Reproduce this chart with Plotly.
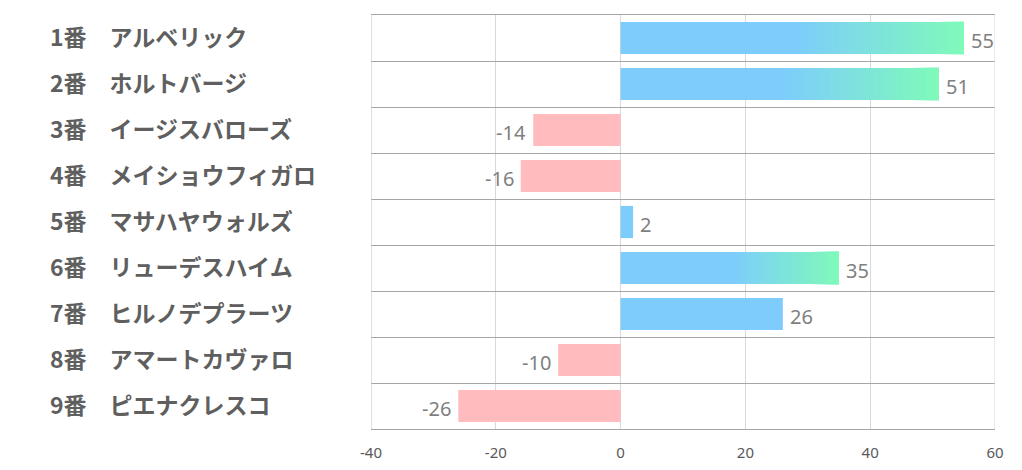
import plotly.graph_objects as go

# ---- data ----
numbers = ["1番", "2番", "3番", "4番", "5番", "6番", "7番", "8番", "9番"]
horses = ["アルベリック", "ホルトバージ", "イージスバローズ", "メイショウフィガロ",
          "マサハヤウォルズ", "リューデスハイム", "ヒルノデプラーツ", "アマートカヴァロ", "ピエナクレスコ"]
values = [55, 51, -14, -16, 2, 35, 26, -10, -26]
x_ticks = [-40, -20, 0, 20, 40, 60]

# ---- styles ----
BLUE = (125, 204, 252)
GREEN = (127, 250, 186)
PINK = "#FFBBBD"
HIGHLIGHT = 30          # bars at/above this get a gradient tail
GRAD_FROM = 0.5         # gradient starts at this fraction of bar length
N_SEG = 48
BAR_W = 0.7

cats = [f"{n}　{h}" for n, h in zip(numbers, horses)]

def rgb(c):
    return f"rgb({c[0]},{c[1]},{c[2]})"

base_colors = [rgb(BLUE) if v >= 0 else PINK for v in values]

fig = go.Figure()
fig.add_trace(go.Bar(
    y=cats, x=values, orientation="h", width=BAR_W,
    marker=dict(color=base_colors, line=dict(width=0)),
    hoverinfo="skip", showlegend=False,
))

# gradient overlay segments
seg_y, seg_base, seg_x, seg_col = [], [], [], []
for c, v in zip(cats, values):
    if v >= HIGHLIGHT:
        for i in range(N_SEG):
            t = i / (N_SEG - 1)
            start = v * (GRAD_FROM + (1 - GRAD_FROM) * i / N_SEG)
            col = tuple(round(BLUE[k] + (GREEN[k] - BLUE[k]) * t) for k in range(3))
            seg_y.append(c)
            seg_base.append(start)
            seg_x.append(v - start)
            seg_col.append(rgb(col))
fig.add_trace(go.Bar(
    y=seg_y, x=seg_x, base=seg_base, orientation="h", width=BAR_W,
    marker=dict(color=seg_col, line=dict(width=0)),
    hoverinfo="skip", showlegend=False,
))

# value labels outside bar ends
for c, v in zip(cats, values):
    fig.add_annotation(
        x=v, xref="x", y=c, yref="y", text=str(v), showarrow=False,
        xanchor="left" if v >= 0 else "right", yanchor="middle",
        xshift=5 if v >= 0 else -5, yshift=-2,
        font=dict(family="Noto Sans", size=20, color="#7f7f7f"),
    )

# left-aligned category labels
for c in cats:
    fig.add_annotation(
        x=-0.5176, xref="paper", y=c, yref="y", text=c, showarrow=False,
        xanchor="left", yanchor="middle", yshift=2,
        font=dict(family="Noto Sans CJK JP", size=23, color="#5f5f5f", weight="bold"),
    )

fig.update_layout(
    width=1022, height=470,
    margin=dict(l=371, r=27, t=15, b=41, autoexpand=False),
    paper_bgcolor="white", plot_bgcolor="white",
    barmode="overlay", bargap=0.3,
    showlegend=False,
)
fig.update_xaxes(
    range=[-40, 60], tickvals=x_ticks, ticktext=[str(t) for t in x_ticks],
    showgrid=True, gridcolor="#d9d9d9", gridwidth=1,
    zeroline=False, showline=True, mirror=True, linecolor="#a6a6a6", linewidth=1,
    tickfont=dict(family="Noto Sans", size=15, color="#595959"),
    ticks="", ticklabelstandoff=10, automargin=False, fixedrange=True,
)
fig.update_yaxes(
    autorange="reversed", categoryorder="array", categoryarray=cats,
    showticklabels=False, tickson="boundaries", ticks="",
    showgrid=True, gridcolor="#a6a6a6", gridwidth=1,
    showline=False, automargin=False, fixedrange=True,
)
# vertical frame lines at the x-range ends
fig.add_shape(type="line", xref="x", yref="paper", x0=-40, x1=-40, y0=0, y1=1,
              line=dict(color="#bfbfbf", width=1))
fig.add_shape(type="line", xref="x", yref="paper", x0=60, x1=60, y0=0, y1=1,
              line=dict(color="#d9d9d9", width=1))

fig.write_html("out.html")
